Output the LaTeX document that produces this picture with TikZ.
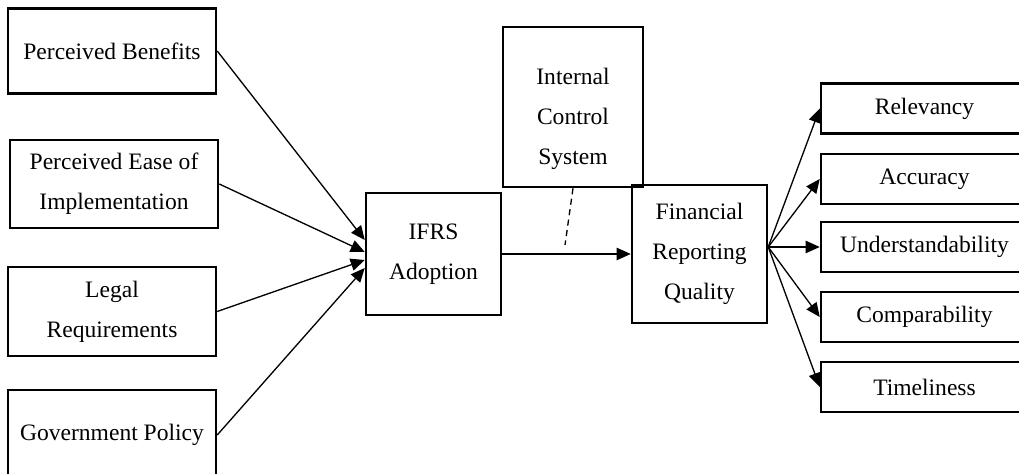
\documentclass[tikz,border=0pt]{standalone}
\usepackage{fontspec}
\setmainfont{Liberation Serif}
\usetikzlibrary{arrows.meta, positioning}

\begin{document}
\begin{tikzpicture}[
    factor/.style={
        rectangle, draw, line width=1.4pt,
        minimum width=4.16cm, minimum height=1.7cm,
        align=center, font=\fontsize{13.4}{22.8}\selectfont
    },
    hub/.style={
        rectangle, draw, line width=1.4pt,
        minimum width=2.7cm,
        align=center, font=\fontsize{13.4}{22.8}\selectfont
    },
    quality/.style={
        rectangle, draw, line width=1.4pt,
        minimum width=4.14cm, minimum height=1.0cm,
        align=center, font=\fontsize{13.4}{22.8}\selectfont
    },
    >={Triangle[length=8pt, width=7pt]}, line width=0.75pt
]

\useasboundingbox (0,0) rectangle (20.38,9.48);
\clip (0,0) rectangle (20.38,9.48);

% antecedents
\node[factor] (benefits) at (2.24, 8.46) {Perceived Benefits};
\node[factor, minimum height=1.76cm] (ease) at (2.28, 5.80) {Perceived Ease of\\Implementation};
\node[factor, minimum height=1.78cm] (legal) at (2.24, 3.25) {Legal\\Requirements};
\node[factor, minimum height=1.8cm] (govt) at (2.24, 0.78) {Government Policy};

% centre
\node[hub, minimum height=2.44cm] (ifrs) at (8.67, 4.40) {IFRS\\Adoption};
\node[hub, minimum width=2.8cm, minimum height=3.2cm] (ics) at (11.46, 7.34) {\rule{0pt}{0.8cm}Internal\\Control\\System};
\node[hub, minimum height=2.76cm] (frq) at (13.99, 4.40) {Financial\\Reporting\\Quality};
\coordinate (mod) at (11.30, 4.58);

% dimensions
\node[quality] (relev)  at (18.49, 7.31) {Relevancy};
\node[quality] (accur)  at (18.49, 5.90) {Accuracy};
\node[quality] (under)  at (18.49, 4.54) {Understandability};
\node[quality] (compar) at (18.49, 3.14) {Comparability};
\node[quality] (timely) at (18.49, 1.74) {Timeliness};

\draw[->] (benefits.east) -- ([yshift= 0.28cm]ifrs.west);
\draw[->] (ease.east)     -- ([yshift= 0.04cm]ifrs.west);
\draw[->] (legal.east)    -- ([yshift=-0.12cm]ifrs.west);
\draw[->] (govt.east)     -- ([yshift=-0.28cm]ifrs.west);

\draw[->] (ifrs) -- (frq);
\draw[dash pattern=on 3.5pt off 2.5pt] (ics.south) -- (mod);

\draw[->] ([yshift=0.14cm]frq.east) -- (relev.west);
\draw[->] ([yshift=0.14cm]frq.east) -- (accur.west);
\draw[->] ([yshift=0.14cm]frq.east) -- (under.west);
\draw[->] ([yshift=0.14cm]frq.east) -- (compar.west);
\draw[->] ([yshift=0.14cm]frq.east) -- (timely.west);

\end{tikzpicture}
\end{document}
